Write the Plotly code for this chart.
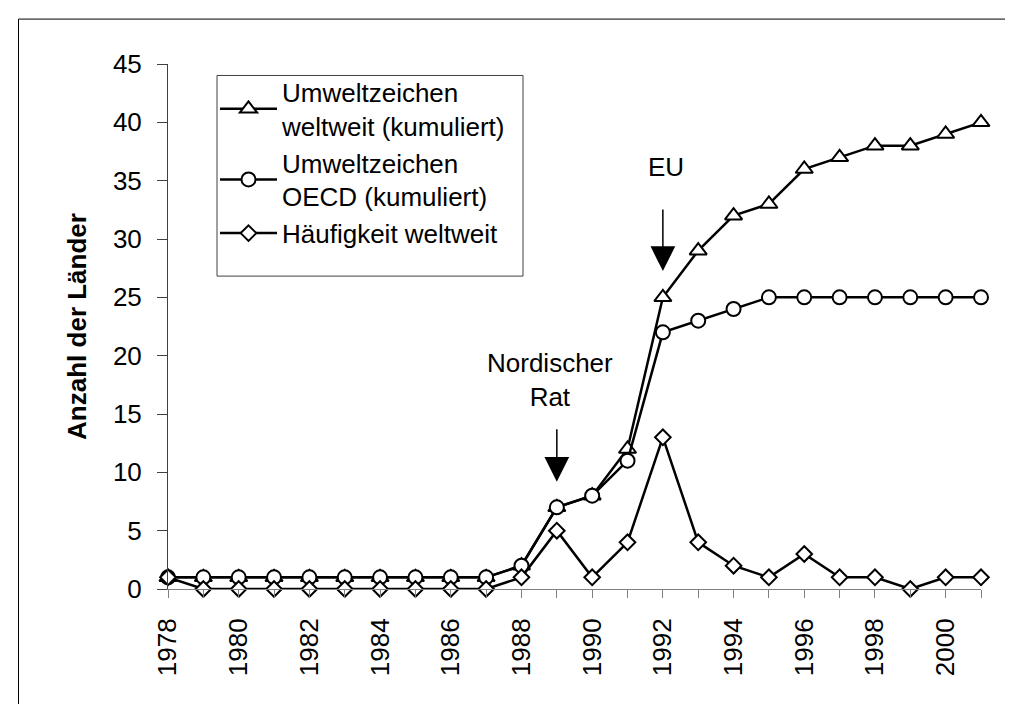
import plotly.graph_objects as go

years = list(range(1978, 2002))
year_labels = [str(y) if y % 2 == 0 else "" for y in years]

weltweit_kum = [1, 1, 1, 1, 1, 1, 1, 1, 1, 1, 2, 7, 8, 12, 25, 29, 32, 33, 36, 37, 38, 38, 39, 40]
oecd_kum = [1, 1, 1, 1, 1, 1, 1, 1, 1, 1, 2, 7, 8, 11, 22, 23, 24, 25, 25, 25, 25, 25, 25, 25]
haeufigkeit = [1, 0, 0, 0, 0, 0, 0, 0, 0, 0, 1, 5, 1, 4, 13, 4, 2, 1, 3, 1, 1, 0, 1, 1]

names = ["Umweltzeichen<br>weltweit (kumuliert)",
         "Umweltzeichen<br>OECD (kumuliert)",
         "Häufigkeit weltweit"]

FONT = "Liberation Sans, Arial, sans-serif"

fig = go.Figure()
series = [(weltweit_kum, "triangle-up", 15), (oecd_kum, "circle", 14), (haeufigkeit, "diamond", 12)]
for (vals, sym, sz), name in zip(series, names):
    fig.add_trace(go.Scatter(
        x=years, y=vals, name=name, mode="lines+markers",
        line=dict(color="black", width=2.5),
        marker=dict(symbol=sym, size=sz, color="white", line=dict(color="black", width=2)),
        cliponaxis=False,
    ))

W, H = 1013, 704
L, R, T, B = 160, 40, 55.5, 122.5
pw, ph = W - L - R, H - T - B

def px(x):
    return (x - L) / pw

def py(y):
    return (H - B - y) / ph

# outer frame of the chart area
fig.add_shape(type="rect", xref="paper", yref="paper",
              x0=px(10.5), x1=px(1012), y0=py(703), y1=py(10.5),
              line=dict(color="black", width=1), fillcolor="rgba(0,0,0,0)", layer="below")
# legend frame
fig.add_shape(type="rect", xref="paper", yref="paper",
              x0=px(209), x1=px(515), y0=py(268), y1=py(67),
              line=dict(color="#404040", width=1), fillcolor="white", layer="below")

# event annotations
fig.add_annotation(x=1988.8, y=17.9, text="Nordischer<br>Rat", showarrow=False,
                   font=dict(family=FONT, size=26, color="black"))
fig.add_annotation(x=1989, y=9.2, ax=0, ay=-54, text="", showarrow=True,
                   arrowhead=2, arrowsize=3.3, arrowwidth=1.5, arrowcolor="black")
fig.add_annotation(x=1992.1, y=36.2, text="EU", showarrow=False,
                   font=dict(family=FONT, size=26, color="black"))
fig.add_annotation(x=1992, y=27.25, ax=0, ay=-63, text="", showarrow=True,
                   arrowhead=2, arrowsize=3.3, arrowwidth=1.5, arrowcolor="black")

fig.update_layout(
    width=W, height=H,
    margin=dict(l=L, r=R, t=T, b=B, autoexpand=False),
    paper_bgcolor="white", plot_bgcolor="white",
    font=dict(family=FONT, size=26, color="black"),
    showlegend=True,
    legend=dict(x=px(207), y=py(60), xanchor="left", yanchor="top",
                bgcolor="rgba(0,0,0,0)", borderwidth=0,
                font=dict(family=FONT, size=26, color="black"),
                tracegroupgap=0, itemwidth=57),
    xaxis=dict(range=[1978, 2001], tickmode="array", tickvals=years, ticktext=year_labels,
               tickangle=-90, ticks="outside", ticklen=8, tickcolor="#808080",
               showline=True, linecolor="#808080", linewidth=1,
               showgrid=False, zeroline=False, ticklabelstandoff=10,
               tickfont=dict(family=FONT, size=26, color="black")),
    yaxis=dict(range=[0, 45], tickmode="linear", tick0=0, dtick=5,
               ticks="outside", ticklen=10, tickcolor="#404040",
               showline=True, linecolor="#404040", linewidth=1,
               showgrid=False, zeroline=False, ticklabelstandoff=10,
               tickfont=dict(family=FONT, size=26, color="black"),
               title=dict(text="<b>Anzahl der Länder</b>", standoff=18,
                          font=dict(family=FONT, size=26, color="black"))),
)

fig.write_html("out.html")
